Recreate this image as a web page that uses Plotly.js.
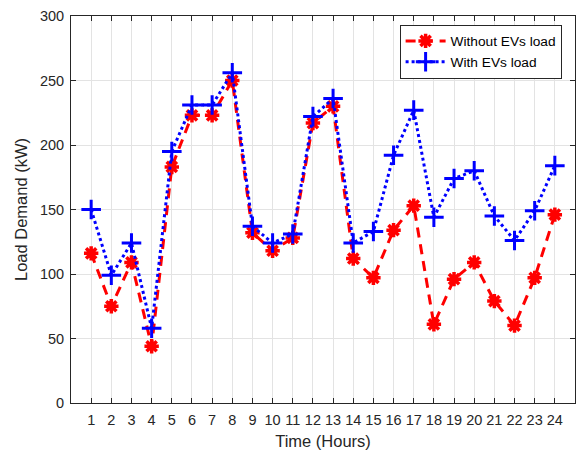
<!DOCTYPE html>
<html><head><meta charset="utf-8">
<script src="https://cdn.plot.ly/plotly-3.0.1.min.js"></script>
<style>html,body{margin:0;padding:0;background:#fff}#chart{width:579px;height:452px}</style>
</head><body><div id="chart"></div>
<script>
const hours = [1,2,3,4,5,6,7,8,9,10,11,12,13,14,15,16,17,18,19,20,21,22,23,24];
const withoutEV = [116,75,109,44,183,223,223,250,132,118,128,217,230,112,97,134,153,61,96,109,79,60,97,146];
const withEV = [150,99,124,58,195,231,231,256,137,124,131,222,236,124,133,192,227,144,174,180,145,126,149,184];
const yTicks = [0,50,100,150,200,250,300];

const FONT = 'Liberation Sans, Arial, sans-serif';

const traces = [
  {x: hours, y: withoutEV, name: 'Without EVs load', type: 'scatter', mode: 'lines+markers',
   line: {color: '#ff0000', width: 3, dash: '10px,7px'},
   marker: {symbol: 'asterisk-open', size: 12, color: '#ff0000', line: {color: '#ff0000', width: 3.5}}},
  {x: hours, y: withEV, name: 'With EVs load', type: 'scatter', mode: 'lines+markers',
   line: {color: '#0000ff', width: 3, dash: 'dot'},
   marker: {symbol: 'cross-thin-open', size: 14, color: '#0000ff', line: {color: '#0000ff', width: 3}}}
];

const axisCommon = {
  showline: true, linecolor: '#262626', linewidth: 1, mirror: 'ticks',
  ticks: 'inside', ticklen: 5, tickcolor: '#262626',
  showgrid: true, gridcolor: '#e3e3e3', gridwidth: 1, zeroline: false,
  tickfont: {family: FONT, size: 14.5, color: '#262626'}
};

const layout = {
  width: 579, height: 452,
  margin: {l: 71, r: 4, t: 16, b: 49},
  paper_bgcolor: '#ffffff', plot_bgcolor: '#ffffff',
  showlegend: true,
  legend: {x: 0.652, y: 0.978, xanchor: 'left', yanchor: 'top',
    bgcolor: '#ffffff', bordercolor: '#262626', borderwidth: 1,
    font: {family: FONT, size: 13.7, color: '#000'},
    tracegroupgap: 0, itemwidth: 40},
  xaxis: Object.assign({}, axisCommon, {
    range: [0, 25], tickmode: 'array', tickvals: hours, ticktext: hours.map(String),
    ticklabelstandoff: 4,
    title: {text: 'Time (Hours)', font: {family: FONT, size: 16.5, color: '#262626'}, standoff: 8}
  }),
  yaxis: Object.assign({}, axisCommon, {
    range: [0, 300], tickmode: 'array', tickvals: yTicks, ticktext: yTicks.map(String),
    ticklabelstandoff: 3,
    title: {text: 'Load Demand (kW)', font: {family: FONT, size: 16.5, color: '#262626'}, standoff: 8}
  })
};

Plotly.newPlot('chart', traces, layout, {displayModeBar: false, staticPlot: true});
</script></body></html>
